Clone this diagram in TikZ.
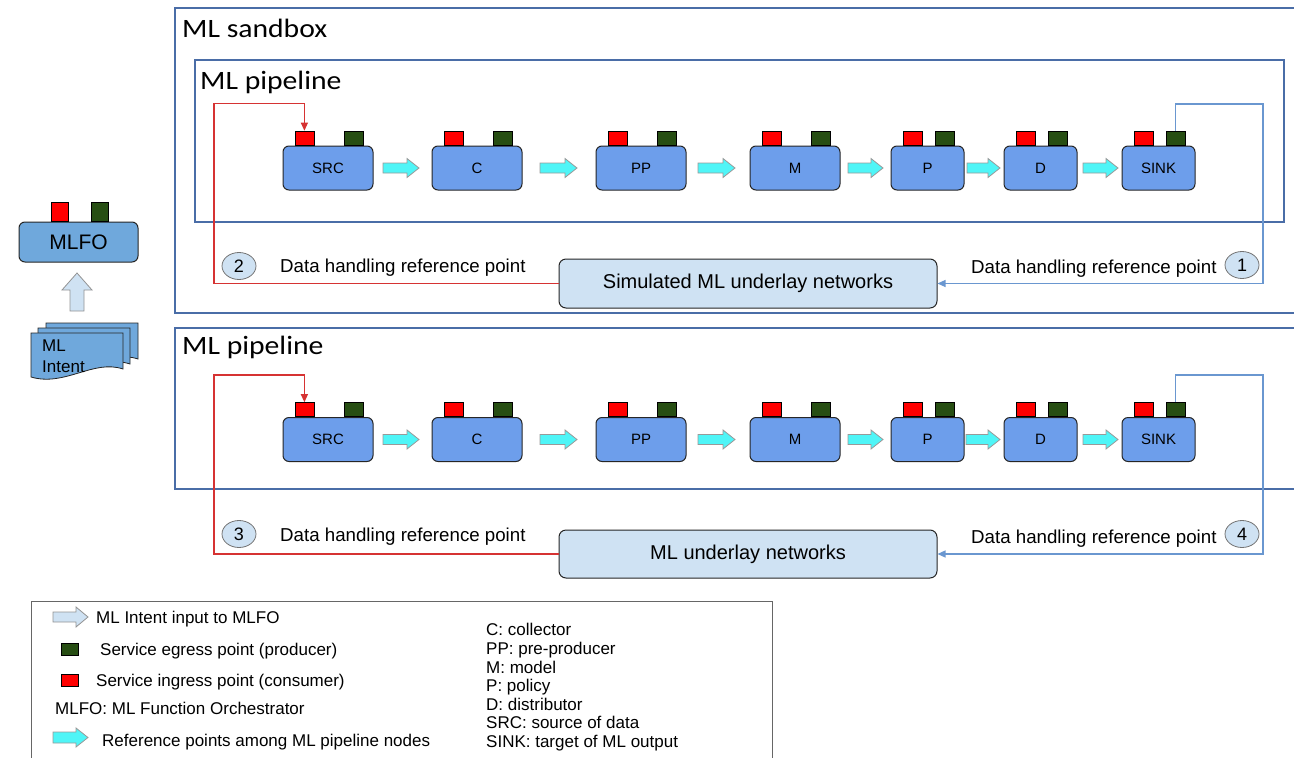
\documentclass[tikz,border=0pt]{standalone}
\usepackage{fontspec}
\setmainfont{Liberation Sans}
\newfontfamily\titlefont{Carlito}
\usetikzlibrary{shapes.geometric,arrows.meta,calc}
\definecolor{boxblue}{HTML}{6D9EEB}
\definecolor{mlfoblue}{HTML}{6FA8DC}
\definecolor{lightblue}{HTML}{CFE2F3}
\definecolor{portred}{HTML}{FF0000}
\definecolor{portgreen}{HTML}{274E13}
\definecolor{cyanarr}{HTML}{4FF5F7}
\definecolor{framecol}{HTML}{4A6DA7}
\definecolor{redline}{HTML}{D63333}
\definecolor{blueline}{HTML}{6A97D0}
\newcommand{\wider}[1]{\scalebox{1.12}[1]{#1}}
\newcommand{\fs}[1]{\fontsize{#1}{#1}\selectfont}
% block arrow: style, x1, x2, y
\newcommand{\blockarrow}[4]{%
  \filldraw[#1] (#2,#4-5) -- (#3-12,#4-5) -- (#3-12,#4-9.5) -- (#3,#4)
    -- (#3-12,#4+9.5) -- (#3-12,#4+5) -- (#2,#4+5) -- cycle;}
% pipeline node: name, cx, cy, width, label
\newcommand{\pipenode}[5]{%
  \node[mlnode, minimum width=#4pt] (#1) at (#2,#3) {#5};
  \node[port, fill=portred, anchor=south west] (#1-in) at ([xshift=12pt]#1.north west) {};
  \node[port, fill=portgreen, anchor=south east] (#1-out) at ([xshift=-10pt]#1.north east) {};}
% document shape: x, y (top-left)
\newcommand{\docshape}[2]{%
  \filldraw[docstyle] (#1,#2) -- (#1+92,#2) -- (#1+92,#2+36)
    .. controls (#1+62,#2+26) and (#1+34,#2+54) .. (#1,#2+44) -- cycle;}
\begin{document}
\begin{tikzpicture}[x=1pt,y=-1pt,
  frame/.style={draw=framecol, line width=1.1pt},
  mlnode/.style={draw=black!85, fill=boxblue, rounded corners=6pt, line width=1pt,
     minimum height=44pt, inner sep=0pt, font=\fs{15}},
  port/.style={draw=black, line width=0.8pt, minimum width=19pt, minimum height=14pt, inner sep=0pt},
  cyarrow/.style={fill=cyanarr, draw=gray!80, line width=0.8pt},
  hollowarrow/.style={fill=lightblue, draw=gray!85, line width=0.8pt},
  docstyle/.style={fill=mlfoblue, draw=black!85, line width=0.8pt},
  underlay/.style={draw=black!85, fill=lightblue, rounded corners=7pt, line width=1pt,
     minimum width=378pt, inner sep=0pt, font=\fs{20}},
  numcirc/.style={ellipse, draw=gray!90!black, fill=lightblue, line width=0.8pt,
     minimum width=34pt, minimum height=27pt, inner sep=0pt, font=\fs{18}},
  dhtext/.style={anchor=base west, font=\fs{18.7}, inner sep=0pt},
  legtext/.style={anchor=base west, font=\fs{17}, inner sep=0pt},
  titletext/.style={anchor=base west, font=\titlefont\fs{26.5}, inner sep=0pt},
  redconn/.style={draw=redline, line width=1.2pt},
  blueconn/.style={draw=blueline, line width=1.2pt},
  tip/.style={-{Triangle[width=7pt,length=8pt]}}
]
\useasboundingbox (0,0) rectangle (1294,758);
\clip (0,0) rectangle (1294,758);

% ---------- frames ----------
\draw[frame] (175,8) rectangle (1320,313);
\draw[frame] (195,60) rectangle (1284,222);
\draw[frame] (175,328) rectangle (1320,489);
\draw[draw=black!60, line width=1pt] (31,601) rectangle (772,780);

\node[titletext] (tsand) at (182,37) {\wider{ML sandbox}};
\node[titletext] (tpipe1) at (200,89) {\wider{ML pipeline}};
\node[titletext] (tpipe2) at (182,354) {\wider{ML pipeline}};

% ---------- top pipeline ----------
\pipenode{srcA}{328}{168}{90}{SRC}
\pipenode{cA}{477}{168}{90}{C}
\pipenode{ppA}{641}{168}{90}{PP}
\pipenode{mA}{795}{168}{90}{M}
\pipenode{pA}{927.5}{168}{73}{P}
\pipenode{dA}{1040.5}{168}{73}{D}
\pipenode{sinkA}{1158.5}{168}{73}{SINK}
\blockarrow{cyarrow}{383}{419}{168}
\blockarrow{cyarrow}{540}{577}{168}
\blockarrow{cyarrow}{698}{735}{168}
\blockarrow{cyarrow}{848}{883}{168}
\blockarrow{cyarrow}{967}{1000}{168}
\blockarrow{cyarrow}{1083}{1118}{168}

\node[underlay, minimum height=49pt] (simu) at (748,283.5) {Simulated ML underlay networks};
\node[numcirc] (n2) at (239,266) {2};
\node[numcirc] (n1) at (1242,265) {1};
\node[dhtext] (dh2) at (280,272) {Data handling reference point};
\node[dhtext] (dh1) at (971,273) {Data handling reference point};

\draw[redconn, tip] (simu.west) -- (214,283.5) -- (214,103.5) -| (srcA-in.north);
\draw[blueconn, tip] (sinkA-out.north) |- (1263,104) |- (simu.east);

% ---------- bottom pipeline ----------
\pipenode{srcB}{328}{439.5}{90}{SRC}
\pipenode{cB}{477}{439.5}{90}{C}
\pipenode{ppB}{641}{439.5}{90}{PP}
\pipenode{mB}{795}{439.5}{90}{M}
\pipenode{pB}{927.5}{439.5}{73}{P}
\pipenode{dB}{1040.5}{439.5}{73}{D}
\pipenode{sinkB}{1158.5}{439.5}{73}{SINK}
\blockarrow{cyarrow}{383}{419}{439.5}
\blockarrow{cyarrow}{540}{577}{439.5}
\blockarrow{cyarrow}{698}{735}{439.5}
\blockarrow{cyarrow}{848}{883}{439.5}
\blockarrow{cyarrow}{966}{1000}{439.5}
\blockarrow{cyarrow}{1083}{1118}{439.5}

\node[underlay, minimum height=48pt] (real) at (748,554) {ML underlay networks};
\node[numcirc] (n3) at (239,534) {3};
\node[numcirc] (n4) at (1242,534) {4};
\node[dhtext] (dh3) at (280,541) {Data handling reference point};
\node[dhtext] (dh4) at (971,543) {Data handling reference point};

\draw[redconn, tip] (real.west) -- (214,554) -- (214,375) -| (srcB-in.north);
\draw[blueconn, tip] (sinkB-out.north) |- (1263,375) |- (real.east);

% ---------- MLFO and intent ----------
\node[draw=black!85, fill=mlfoblue, rounded corners=6pt, line width=1pt,
      minimum width=119pt, minimum height=40pt, inner sep=0pt, font=\fs{21}] (mlfo) at (78.5,242) {MLFO};
\node[port, minimum width=17pt, minimum height=19pt, fill=portred, anchor=south west] (mlfo-in) at (51,222) {};
\node[port, minimum width=17pt, minimum height=19pt, fill=portgreen, anchor=south west] (mlfo-out) at (91,222) {};
\filldraw[hollowarrow] (70,311) -- (70,290) -- (62,290) -- (77,273) -- (92,290) -- (84,290) -- (84,311) -- cycle;
\docshape{46}{323}
\docshape{38}{328}
\docshape{31}{333}
\node[anchor=base west, font=\fs{17}, inner sep=0pt] (intentA) at (42,351) {ML};
\node[anchor=base west, font=\fs{17}, inner sep=0pt] (intentB) at (42,372) {Intent};

% ---------- legend ----------
\filldraw[hollowarrow] (53,612) -- (76,612) -- (76,607) -- (88,617) -- (76,627) -- (76,622) -- (53,622) -- cycle;
\node[legtext] (l1) at (96,623) {ML Intent input to MLFO};
\node[port, fill=portgreen, minimum width=17pt, minimum height=12pt] (lg) at (70,649.5) {};
\node[legtext] (l2) at (100,655.5) {Service egress point (producer)};
\node[port, fill=portred, minimum width=17pt, minimum height=12pt] (lr) at (70,680.5) {};
\node[legtext] (l3) at (96,686.5) {Service ingress point (consumer)};
\node[legtext] (l4) at (55,714) {MLFO: ML Function Orchestrator};
\filldraw[cyarrow] (53,732) -- (76,732) -- (76,728) -- (88,737.5) -- (76,747) -- (76,743) -- (53,743) -- cycle;
\node[legtext] (l5) at (102,746) {Reference points among ML pipeline nodes};

\node[legtext] (r1) at (486,635) {C: collector};
\node[legtext] (r2) at (486,654) {PP: pre-producer};
\node[legtext] (r3) at (486,673) {M: model};
\node[legtext] (r4) at (486,691) {P: policy};
\node[legtext] (r5) at (486,710) {D: distributor};
\node[legtext] (r6) at (486,728) {SRC: source of data};
\node[legtext] (r7) at (486,747) {SINK: target of ML output};
\end{tikzpicture}
\end{document}
